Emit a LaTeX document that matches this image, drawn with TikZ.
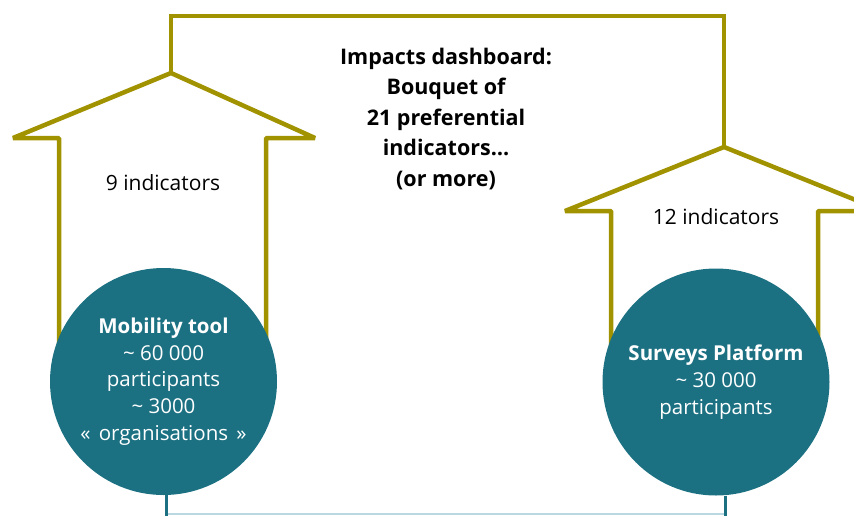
\documentclass[tikz,border=0pt]{standalone}
\usepackage{fontspec}
\setmainfont{Open Sans}
\definecolor{myolive}{RGB}{161,146,0}
\definecolor{myteal}{RGB}{27,112,130}
\definecolor{mylight}{RGB}{185,216,226}
\begin{document}
\begin{tikzpicture}[x=1pt,y=-1pt,
  arrowline/.style={draw=myolive,line width=4.5pt,line join=bevel},
  frameline/.style={draw=myolive,line width=4.5pt,line join=miter},
  circ/.style={circle,fill=myteal,minimum size=227pt,inner sep=0pt,text=white,align=center,font=\fontsize{20.5}{26.7}\selectfont},
  lbl/.style={align=center,font=\fontsize{21}{24}\selectfont,text=black},
  title/.style={align=center,font=\bfseries\fontsize{21.5}{30.5}\selectfont,text=black}]
\useasboundingbox (0,0) rectangle (854,515);
\clip (0,0) rectangle (854,515);
% left arrow
\coordinate (lapex) at (171,73);
\draw[arrowline] (59,380) -- (59,138) -- (13,138) -- (lapex) -- (315,138) -- (266,138) -- (266,380);
% right arrow
\coordinate (rapex) at (724,147);
\draw[arrowline] (611,380) -- (611,211) -- (565,211) -- (rapex) -- (883,211) -- (818,211) -- (818,380);
% frame linking both arrows
\draw[frameline] (lapex) -- (171,16) -- (724,16) -- (rapex);
% circles
\node[circ] (mob) at (163.5,381.5) {\textbf{Mobility tool}\\\textasciitilde{} 60 000\\participants\\\textasciitilde{} 3000\\«\hspace{0.4em}organisations\hspace{0.4em}»};
\node[circ] (sur) at (716,382) {\textbf{Surveys Platform}\\\textasciitilde{} 30 000\\participants};
% labels
\node[lbl] (nine) at (163,183) {9 indicators};
\node[lbl] (twelve) at (716,217) {12 indicators};
\node[title] (dash) at (446,119) {Impacts dashboard:\\Bouquet of\\21 preferential\\indicators…\\(or more)};
% bottom connectors
\coordinate (mobfoot) at (166,516);
\coordinate (surfoot) at (725,516);
\coordinate (bl) at (168,514);
\coordinate (br) at (724,514);
\draw[myteal,line width=3pt] (mob.south -| mobfoot) -- (mobfoot);
\draw[myteal,line width=3pt] (sur.south -| surfoot) -- (surfoot);
\draw[mylight,line width=1.5pt] (bl) -- (br);
\end{tikzpicture}
\end{document}
